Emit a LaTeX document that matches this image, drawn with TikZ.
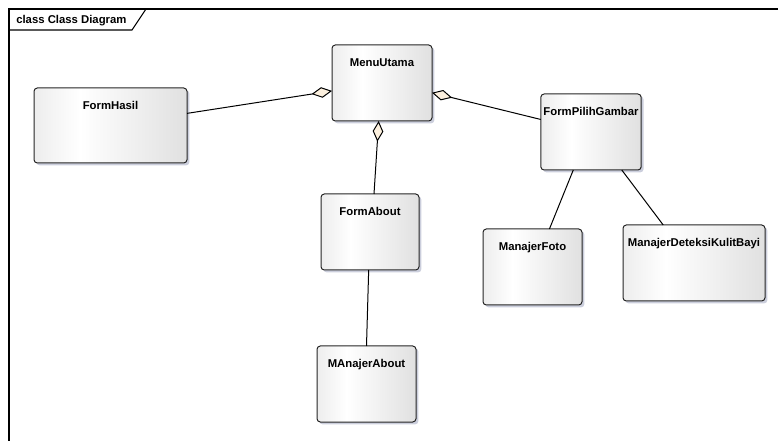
\documentclass[tikz,border=0pt]{standalone}
\usepackage{fontspec}
\setmainfont{Liberation Sans}
\usetikzlibrary{arrows.meta, shadows}

\definecolor{aggrfill}{RGB}{252,240,222}
\definecolor{shadowblue}{RGB}{168,174,196}
\pgfdeclarehorizontalshading{classfill}{100bp}{color(0bp)=(black!7); color(25bp)=(black!7); color(40bp)=(white); color(75bp)=(black!12); color(100bp)=(black!12)}

\tikzset{
  umlclass/.style={draw=black!85, line width=0.75pt, rounded corners=2.5pt, shading=classfill,
    drop shadow={shadow xshift=1.8pt, shadow yshift=-1.8pt, fill=shadowblue, opacity=0.6},
    minimum height=57pt, inner sep=2pt, outer sep=0pt, text height=14.5pt, text depth=38.5pt,
    font=\fontsize{8.5}{10}\selectfont\bfseries},
  assoc/.style={draw=black, line width=0.75pt},
  aggr/.style={assoc, -{Diamond[length=15.5pt, width=8pt, fill=aggrfill]}},
}

\begin{document}
\begin{tikzpicture}[x=0.75pt,y=0.75pt,yscale=-1,xscale=1]
        \useasboundingbox (0,0) rectangle (778,441);

        %Shape: Frame
        \draw [line width=1pt]  (9,441) -- (9,9) -- (778,9) ;
        \draw [line width=0.8pt]  (9,30) -- (132,30) -- (146,9) ;
        % Text Node
        \node [anchor=west][inner sep=0.75pt][font=\fontsize{8.5}{10}\selectfont\bfseries] (frametitle) at (15,20.5) {class Class Diagram};

        %Shape: Classes
        \node [umlclass, minimum width=75pt] (menu) at (382,83) {MenuUtama};
        \node [umlclass, minimum width=114.75pt, minimum height=56.25pt, text depth=37.75pt] (hasil) at (110.5,125.5) {FormHasil};
        \node [umlclass, minimum width=73.5pt] (pilih) at (591,132) {FormPilihGambar};
        \node [umlclass, minimum width=73.5pt] (about) at (370,232) {FormAbout};
        \node [umlclass, minimum width=74.25pt] (foto) at (532.5,267) {ManajerFoto};
        \node [umlclass, minimum width=106.5pt] (deteksi) at (694,263) {ManajerDeteksiKulitBayi};
        \node [umlclass, minimum width=74.25pt] (mabout) at (366.5,384) {MAnajerAbout};

        %Straight Lines
        \draw [aggr] (hasil.9) -- (menu.189) ;
        \draw [aggr] (pilih.166) -- (menu.-11) ;
        \draw [aggr] (about.84) -- (menu.265) ;
        \draw [assoc] (pilih.245) -- (foto.66) ;
        \draw [assoc] (pilih.-51) -- (deteksi.129) ;
        \draw [assoc] (about.268) -- (mabout.north) ;

\end{tikzpicture}
\end{document}
